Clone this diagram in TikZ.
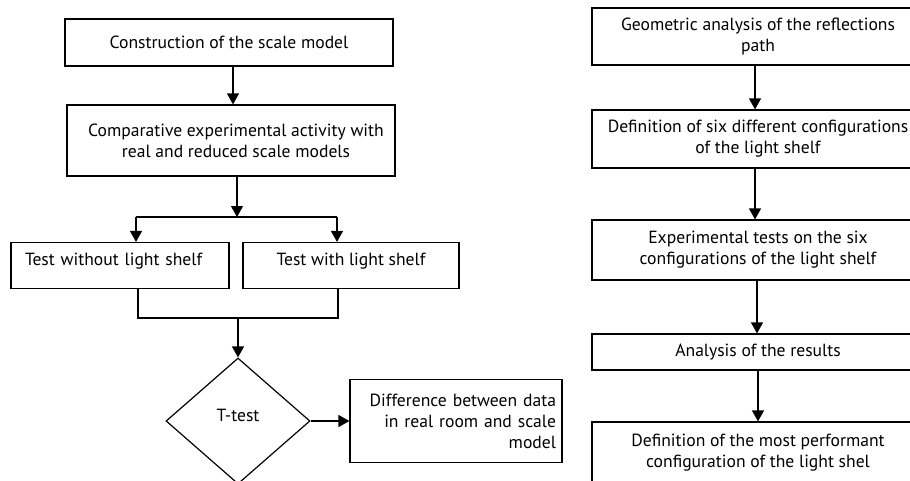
\documentclass[tikz,border=0pt]{standalone}
\usepackage{fontspec}
\setmainfont{PT Sans}
\usetikzlibrary{arrows.meta,positioning,shapes.geometric}
\tikzset{%
   box/.style={rectangle, draw=black, line width=1.2pt, inner sep=0pt, align=center,
      font=\fontsize{17.6}{21}\selectfont},
   decision/.style={diamond, draw=black, line width=1.2pt, inner sep=0pt, aspect=1.14,
      font=\fontsize{17.6}{21}\selectfont},
   arr/.style={-{Triangle[length=11pt, width=12pt]}},
}
\newcommand{\lift}[2]{\raisebox{#1}[\height][\depth]{#2}}

\begin{document}
\begin{tikzpicture}[x=1pt, y=-1pt, line width=1.2pt]
   \useasboundingbox (0,0) rectangle (910,480);
   % left column
   \node[box, minimum width=328, minimum height=47] (constr) at (229,42.5) {Construction of the scale model};
   \node[box, minimum width=328, minimum height=71] (compar) at (231,140.5)
      {\hspace*{10pt}Comparative experimental activity with\\\hspace*{10pt}real and reduced scale models};
   \node[box, minimum width=218, minimum height=46, text width=190, align=left] (without) at (120,265.5)
      {\lift{4pt}{Test without light shelf}};
   \node[box, minimum width=216, minimum height=46] (withls) at (351,265.5) {\lift{4pt}{Test with light shelf}};
   \node[decision, minimum width=144, minimum height=126] (ttest) at (238,421) {\lift{6pt}{T-test}};
   \node[box, minimum width=212, minimum height=83, text width=200, align=right] (diff) at (456,421)
      {Difference between data\\in real room and scale\\model};
   \coordinate (split) at (237,217);
   \coordinate (sl) at (136,217);
   \coordinate (sr) at (337,217);
   \coordinate (jl) at (138,318);
   \coordinate (jr) at (338,318);
   \coordinate (join) at (238,318);
   \draw[arr] (constr.south -| 233,0) -- (compar.north -| 233,0);
   \draw[arr] (compar.south -| split) -- (split);
   \draw (sl) -- (sr);
   \draw[arr] (sl) -- (sl |- without.north);
   \draw[arr] (sr) -- (sr |- withls.north);
   \draw (without.south -| jl) -- (jl) -- (jr) -- (withls.south -| jr);
   \draw[arr] (join) -- (ttest.north);
   \draw[arr] (ttest.east) -- (diff.west);
   % right column
   \node[box, minimum width=332, minimum height=57] (geom) at (758,36.5)
      {Geometric analysis of the reflections\\path};
   \node[box, minimum width=332, minimum height=58] (six) at (758,139)
      {Definition of six different configurations\\of the light shelf};
   \node[box, minimum width=332, minimum height=60] (tests) at (758,250)
      {Experimental tests on the six\\configurations of the light shelf};
   \node[box, minimum width=332, minimum height=36] (results) at (758,352) {Analysis of the results};
   \node[box, minimum width=332, minimum height=62] (best) at (758,453)
      {Definition of the most performant\\configuration of the light shel};
   \draw[arr] (geom.south -| 755,0) -- (six.north -| 755,0);
   \draw[arr] (six.south -| 755,0) -- (tests.north -| 755,0);
   \draw[arr] (tests.south -| 757,0) -- (results.north -| 757,0);
   \draw[arr] (results.south -| 758,0) -- (best.north -| 758,0);
\end{tikzpicture}
\end{document}
